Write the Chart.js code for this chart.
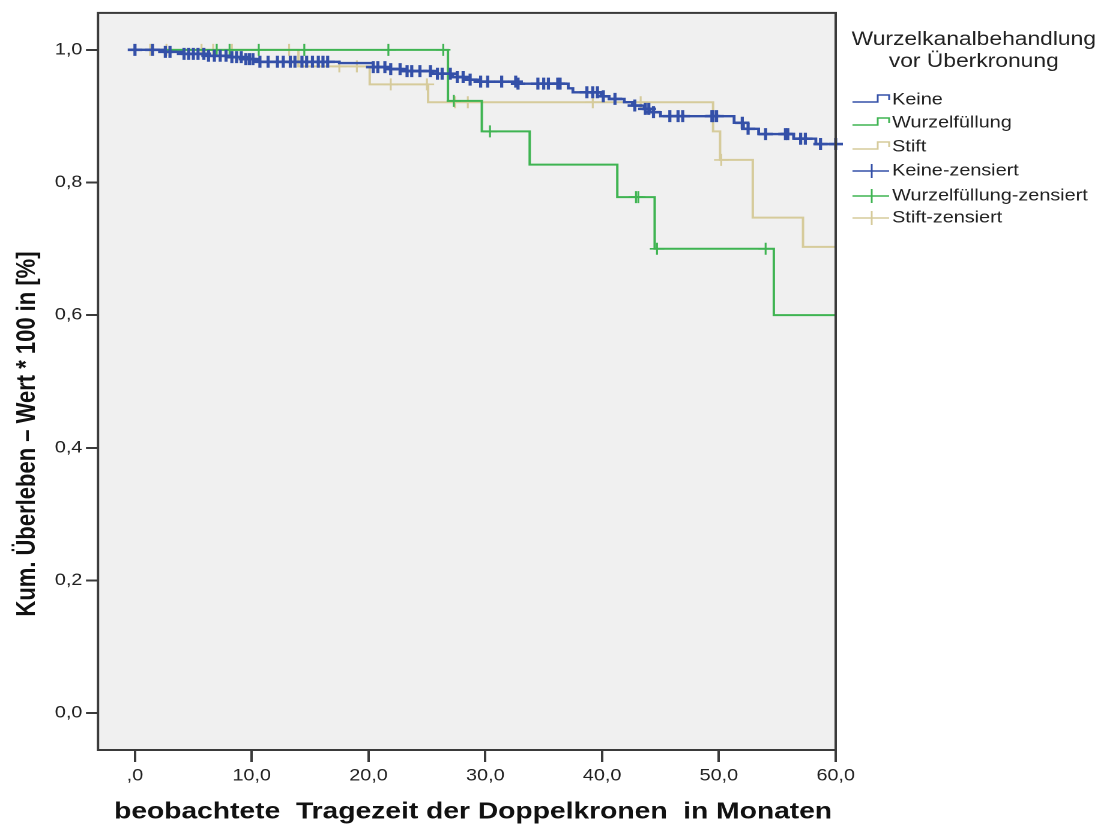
<!DOCTYPE html>
<html>
<head>
<meta charset="utf-8">
<script src="https://cdn.jsdelivr.net/npm/chart.js@4/dist/chart.umd.min.js"></script>
<style>
  html, body { margin: 0; padding: 0; background: #fff; overflow: hidden; }
  /* the figure is laid out on a 922px wide stage and widened to the 1107px page */
  #stage { position: absolute; left: 0; top: 0; width: 922px; height: 829px;
           transform-origin: 0 0; transform: scaleX(1.2007); }
</style>
</head>
<body>
<div id="stage"><canvas id="km"></canvas></div>
<script>
// ---- axis ticks ----
const xTickValues = [0, 10, 20, 30, 40, 50, 60];
const xTickLabels = [',0', '10,0', '20,0', '30,0', '40,0', '50,0', '60,0'];
const yTickValues = [0, 0.2, 0.4, 0.6, 0.8, 1.0];
const yTickLabels = ['0,0', '0,2', '0,4', '0,6', '0,8', '1,0'];

// ---- texts ----
const xTitle = 'beobachtete  Tragezeit der Doppelkronen  in Monaten';
const yTitle = 'Kum. Überleben – Wert * 100 in [%]';
const legendTitle = ['Wurzelkanalbehandlung', 'vor Überkronung'];
const groupNames = ['Keine', 'Wurzelfüllung', 'Stift'];
const censoredNames = ['Keine-zensiert', 'Wurzelfüllung-zensiert', 'Stift-zensiert'];

// ---- Kaplan-Meier estimates: event times (months) and survival after each event ----
const followUpEnd = 60;

const keineTimes = [0, 2.4, 4.1, 6.2, 8.0, 9.3, 10.6, 17.5, 20.4, 21.8, 22.9, 25.5, 27.2, 28.4, 29.6,
                    32.7, 37.1, 37.5, 39.9, 40.6, 41.9, 42.6, 43.6, 44.1, 45.0, 51.3, 52.1, 53.4, 56.4, 58.3];
const keineSurv  = [1.0, 0.997, 0.994, 0.991, 0.989, 0.986, 0.982, 0.980, 0.974, 0.971, 0.968, 0.964, 0.959, 0.955, 0.952,
                    0.949, 0.942, 0.936, 0.930, 0.926, 0.921, 0.916, 0.911, 0.906, 0.900, 0.890, 0.881, 0.873, 0.866, 0.858];
const keineCensored = [0.0, 1.5, 2.6, 3.0, 4.2, 4.6, 5.0, 5.4, 5.9, 6.3, 6.8, 7.3, 7.8, 8.3, 8.7, 9.1, 9.5, 9.8, 10.1,
                       10.7, 11.4, 12.2, 12.7, 13.3, 13.7, 14.3, 14.7, 15.2, 15.7, 16.1, 16.5, 20.4, 20.8, 21.4, 21.9,
                       22.7, 23.3, 23.7, 24.4, 25.3, 25.9, 26.3, 27.0, 27.6, 28.1, 28.7, 29.6, 30.2, 31.4, 32.6, 32.8,
                       34.5, 35.0, 35.4, 36.2, 36.4, 38.7, 39.2, 39.6, 40.1, 41.1, 42.8, 43.7, 44.0, 44.4, 45.8, 46.5,
                       46.9, 49.4, 49.5, 49.8, 52.0, 52.5, 54.0, 55.7, 55.9, 57.0, 57.4, 58.7, 60.0];

const wurzelTimes = [0, 26.8, 29.7, 33.8, 41.3, 44.5, 54.7];
const wurzelSurv  = [1.0, 0.923, 0.877, 0.827, 0.778, 0.700, 0.600];
const wurzelCensored = [7.0, 8.1, 10.6, 14.5, 21.7, 26.4, 27.3, 30.4, 42.9, 43.1, 44.7, 54.0];

const stiftTimes = [0, 14.0, 20.1, 25.1, 49.5, 50.1, 52.9, 57.2];
const stiftSurv  = [1.0, 0.975, 0.948, 0.921, 0.877, 0.834, 0.747, 0.703];
const stiftCensored = [1.3, 2.7, 5.7, 6.7, 8.3, 13.2, 17.5, 19.0, 21.9, 25.0, 27.4, 28.5, 39.2, 43.3, 50.2];

// ---- colours ----
const colKeine  = '#3450a8';
const colWurzel = '#3fb452';
const colStift  = '#d6cb9b';

// survival level of a step curve at time t
function stepAt(times, surv, t) {
  let v = surv[0];
  for (let i = 0; i < times.length; i++) { if (times[i] <= t) v = surv[i]; }
  return v;
}
function stepPoints(times, surv) {
  const pts = times.map((t, i) => ({ x: t, y: surv[i] }));
  pts.push({ x: followUpEnd, y: surv[surv.length - 1] });
  return pts;
}
function censorPoints(times, surv, cens) {
  return cens.map(t => ({ x: t, y: stepAt(times, surv, t) }));
}

function lineSet(label, times, surv, color, w) {
  return { label, data: stepPoints(times, surv), borderColor: color, borderWidth: w,
           stepped: 'before', pointRadius: 0, fill: false, tension: 0 };
}
function censorSet(label, times, surv, cens, color, w) {
  return { label, data: censorPoints(times, surv, cens), showLine: false,
           pointStyle: 'cross', pointRadius: 6, pointBorderWidth: w,
           pointBorderColor: color, pointBackgroundColor: color, borderColor: color, clip: false };
}

const FONT = '"Liberation Sans", Arial, sans-serif';

// plot background and full frame
const framePlugin = {
  id: 'frame',
  beforeDatasetsDraw(chart) {
    const { ctx, chartArea: a } = chart;
    ctx.save();
    ctx.fillStyle = '#f0f0f0';
    ctx.fillRect(a.left, a.top, a.right - a.left, a.bottom - a.top);
    ctx.restore();
  },
  afterDraw(chart) {
    const { ctx, chartArea: a } = chart;
    ctx.save();
    ctx.strokeStyle = '#3a3a3a';
    ctx.lineWidth = 2;
    ctx.strokeRect(a.left, a.top, a.right - a.left, a.bottom - a.top);
    ctx.restore();
  }
};

// axis titles
const titlePlugin = {
  id: 'axisTitles',
  afterDraw(chart) {
    const ctx = chart.ctx;
    ctx.save();
    ctx.fillStyle = '#111';
    ctx.textAlign = 'center';
    ctx.textBaseline = 'middle';
    ctx.font = 'bold 23.5px ' + FONT;
    ctx.fillText(xTitle, 394, 812);
    ctx.translate(23, 434);
    ctx.rotate(-Math.PI / 2);
    ctx.font = 'bold 22px ' + FONT;
    ctx.fillText(yTitle, 0, 0);
    ctx.restore();
  }
};

// legend with step and censor symbols
const legendPlugin = {
  id: 'kmLegend',
  afterDraw(chart) {
    const ctx = chart.ctx;
    const colors = [colKeine, colWurzel, colStift];
    const rows = [100, 123, 147, 171, 196, 218];
    const x0 = 710, x1 = 731, x2 = 740.5, tx = 743;
    ctx.save();
    ctx.fillStyle = '#222';
    ctx.textAlign = 'center';
    ctx.textBaseline = 'middle';
    ctx.font = '19px ' + FONT;
    ctx.fillText(legendTitle[0], 811, 40);
    ctx.fillText(legendTitle[1], 811, 62);
    ctx.font = '16.5px ' + FONT;
    ctx.textAlign = 'left';
    for (let i = 0; i < 3; i++) {
      const y = rows[i];
      ctx.strokeStyle = colors[i];
      ctx.lineWidth = 1.5;
      ctx.beginPath();
      ctx.moveTo(x0, y + 2); ctx.lineTo(x1, y + 2); ctx.lineTo(x1, y - 5);
      ctx.lineTo(x2, y - 5); ctx.lineTo(x2, y);
      ctx.stroke();
      ctx.fillText(groupNames[i], tx, y);
    }
    for (let i = 0; i < 3; i++) {
      const y = rows[3 + i];
      ctx.strokeStyle = colors[i];
      ctx.lineWidth = 1.5;
      ctx.beginPath();
      ctx.moveTo(x0, y); ctx.lineTo(x2, y);
      ctx.moveTo(726, y - 7); ctx.lineTo(726, y + 7);
      ctx.stroke();
      ctx.fillText(censoredNames[i], tx, y);
    }
    ctx.restore();
  }
};

new Chart(document.getElementById('km'), {
  type: 'line',
  data: {
    datasets: [
      censorSet(censoredNames[0], keineTimes, keineSurv, keineCensored, colKeine, 2.6),
      lineSet(groupNames[0], keineTimes, keineSurv, colKeine, 2.4),
      censorSet(censoredNames[1], wurzelTimes, wurzelSurv, wurzelCensored, colWurzel, 1.6),
      lineSet(groupNames[1], wurzelTimes, wurzelSurv, colWurzel, 2),
      censorSet(censoredNames[2], stiftTimes, stiftSurv, stiftCensored, colStift, 1.6),
      lineSet(groupNames[2], stiftTimes, stiftSurv, colStift, 2)
    ]
  },
  options: {
    responsive: true,
    maintainAspectRatio: false,
    devicePixelRatio: 2,
    animation: false,
    events: [],
    layout: { padding: { left: 0, top: 12, right: 226, bottom: 0 } },
    plugins: { legend: { display: false }, tooltip: { enabled: false } },
    scales: {
      x: {
        type: 'linear',
        min: -3.165, max: 60,
        afterBuildTicks: s => { s.ticks = xTickValues.map(v => ({ value: v })); },
        afterFit: s => { s.height = 79; },
        ticks: { callback: (v, i) => xTickLabels[i], color: '#222', padding: 4,
                 maxRotation: 0, font: { family: FONT, size: 16.5 } },
        grid: { display: true, drawOnChartArea: false, drawTicks: true, tickLength: 12,
                tickWidth: 2, tickColor: '#3a3a3a' },
        border: { display: false }
      },
      y: {
        type: 'linear',
        min: -0.0557, max: 1.0557,
        afterBuildTicks: s => { s.ticks = yTickValues.map(v => ({ value: v })); },
        afterFit: s => { s.width = 81.6; },
        ticks: { callback: (v, i) => yTickLabels[i], color: '#222', padding: 3,
                 font: { family: FONT, size: 16.5 } },
        grid: { display: true, drawOnChartArea: false, drawTicks: true, tickLength: 10,
                tickWidth: 2, tickColor: '#3a3a3a' },
        border: { display: false }
      }
    }
  },
  plugins: [framePlugin, titlePlugin, legendPlugin]
});
</script>
</body>
</html>
